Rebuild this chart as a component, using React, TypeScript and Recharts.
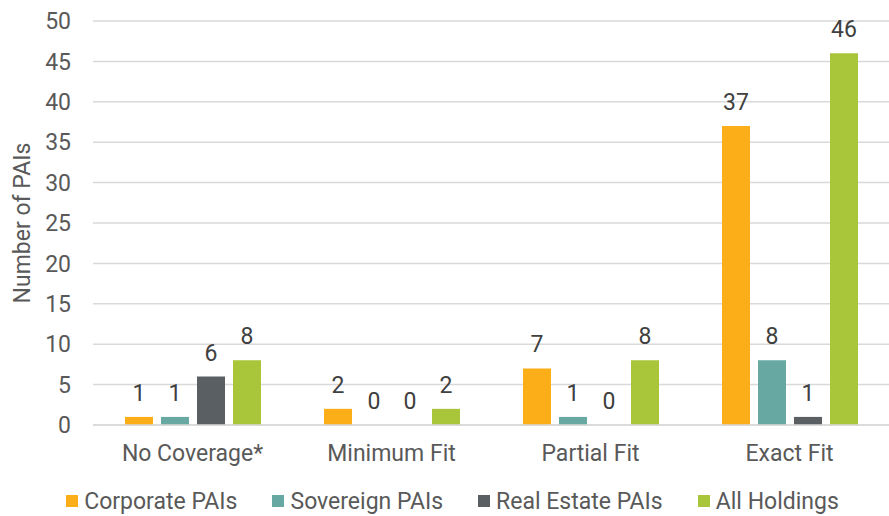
import React from 'react';
import {
  BarChart,
  Bar,
  XAxis,
  YAxis,
  CartesianGrid,
  Legend,
  LabelList,
} from 'recharts';

const categories = ['No Coverage*', 'Minimum Fit', 'Partial Fit', 'Exact Fit'];
const corporatePAIs = [1, 2, 7, 37];
const sovereignPAIs = [1, 0, 1, 8];
const realEstatePAIs = [6, 0, 0, 1];
const allHoldings = [8, 2, 8, 46];
const yTicks = [0, 5, 10, 15, 20, 25, 30, 35, 40, 45, 50];

const series = [
  { key: 'corporate', name: 'Corporate PAIs', color: '#FBAE17', values: corporatePAIs },
  { key: 'sovereign', name: 'Sovereign PAIs', color: '#67A9A2', values: sovereignPAIs },
  { key: 'realEstate', name: 'Real Estate PAIs', color: '#5A5F63', values: realEstatePAIs },
  { key: 'all', name: 'All Holdings', color: '#A9C539', values: allHoldings },
];

const data = categories.map((name, i) => {
  const row: Record<string, string | number> = { name };
  series.forEach((s) => {
    row[s.key] = s.values[i];
  });
  return row;
});

const FONT = 'Roboto, "Noto Sans", sans-serif';
const FS = 23;

// legend laid out as one row of square swatches
const renderLegend = () => (
  <div
    style={{
      display: 'flex',
      justifyContent: 'center',
      alignItems: 'center',
      gap: 35,
      height: 30,
      fontFamily: FONT,
      fontSize: FS,
      color: '#595959',
      paddingLeft: 16,
    }}
  >
    {series.map((s) => (
      <div key={s.key} style={{ display: 'flex', alignItems: 'center' }}>
        <span style={{ width: 12, height: 12, background: s.color, marginRight: 6 }} />
        <span>{s.name}</span>
      </div>
    ))}
  </div>
);

// value text above each bar, zeros included
const renderValue = (props: any) => {
  const { x, y, width, value } = props;
  return (
    <text
      x={Number(x) + Number(width) / 2}
      y={Number(y) - 16}
      textAnchor="middle"
      fill="#404040"
      fontSize={FS}
      fontFamily={FONT}
    >
      {value}
    </text>
  );
};

// zero bars keep a hairline rect so their "0" label still gets a position
const zeroAware = (value: any) => (Number(value) === 0 ? 0.01 : 0);

export default function App() {
  return (
    <div style={{ width: 889, height: 516, background: '#fff' }}>
      <style>{'body{margin:0}'}</style>
      <BarChart
        width={889}
        height={516}
        data={data}
        margin={{ top: 21, right: 0, left: 0, bottom: 0 }}
        barSize={28}
        barGap={8}
      >
        <CartesianGrid vertical={false} stroke="#D9D9D9" strokeWidth={1.5} />
        <XAxis
          dataKey="name"
          axisLine={{ stroke: '#D9D9D9', strokeWidth: 1.5 }}
          tickLine={false}
          tickMargin={14}
          height={61}
          tick={{ fill: '#595959', fontSize: FS, fontFamily: FONT }}
        />
        <YAxis
          domain={[0, 50]}
          ticks={yTicks}
          axisLine={false}
          tickLine={false}
          tickMargin={16}
          width={93}
          tick={{ fill: '#595959', fontSize: FS, fontFamily: FONT }}
          label={{
            value: 'Number of PAIs',
            angle: -90,
            position: 'insideLeft',
            offset: 22,
            style: { textAnchor: 'middle', fill: '#595959', fontSize: FS, fontFamily: FONT },
          }}
        />
        <Legend verticalAlign="bottom" content={renderLegend} wrapperStyle={{ bottom: 0 }} />
        {series.map((s) => (
          <Bar
            key={s.key}
            dataKey={s.key}
            name={s.name}
            fill={s.color}
            minPointSize={zeroAware}
            isAnimationActive={false}
          >
            <LabelList dataKey={s.key} content={renderValue} />
          </Bar>
        ))}
      </BarChart>
    </div>
  );
}
